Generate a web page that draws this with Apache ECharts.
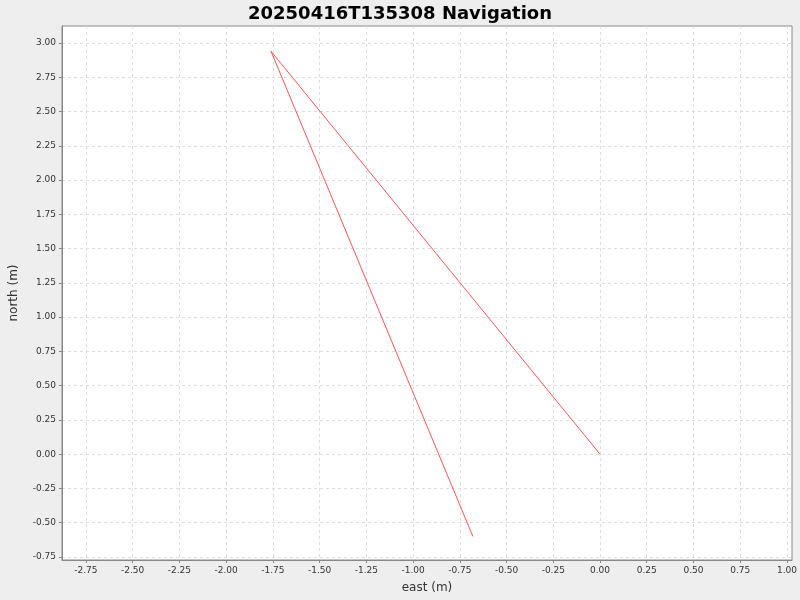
<!DOCTYPE html>
<html><head><meta charset="utf-8">
<script src="https://cdn.jsdelivr.net/npm/echarts@6/dist/echarts.min.js"></script>
<style>html,body{margin:0;padding:0;background:#eeeeee}#c{width:800px;height:600px}</style>
</head><body><div id="c"></div>
<script>
const eastValues = [0.0, -1.76, -0.68];
const northValues = [0.0, 2.94, -0.60];
const xTicks = [-2.75,-2.5,-2.25,-2,-1.75,-1.5,-1.25,-1,-0.75,-0.5,-0.25,0,0.25,0.5,0.75,1];
const yTicks = [-0.75,-0.5,-0.25,0,0.25,0.5,0.75,1,1.25,1.5,1.75,2,2.25,2.5,2.75,3];
const fmt = v => v.toFixed(2);
const chart = echarts.init(document.getElementById('c'));
const splitStyle = {show:true, lineStyle:{color:'#dddddd', type:[3,3], width:1}};
chart.setOption({
  backgroundColor:'#eeeeee',
  animation:false,
  title:{text:'20250416T135308 Navigation', left:'center', top:0,
    textStyle:{fontFamily:'DejaVu Sans', fontWeight:'bold', fontSize:18, color:'#000'}},
  grid:{left:60, right:8, top:26, bottom:40, show:true, backgroundColor:'#ffffff', borderColor:'#888', borderWidth:1},
  xAxis:{type:'value', min:-2.878, max:1.027, name:'east (m)', nameLocation:'middle', nameGap:22,
    nameTextStyle:{fontFamily:'DejaVu Sans', fontSize:12, color:'#333'},
    axisLine:{show:true, onZero:false, lineStyle:{color:'#888'}},
    axisTick:{show:true, customValues:xTicks, length:3, lineStyle:{color:'#888'}},
    axisLabel:{customValues:xTicks, formatter:fmt, fontFamily:'DejaVu Sans', fontSize:9, color:'#333', margin:6},
    splitLine:splitStyle},
  yAxis:{type:'value', min:-0.772, max:3.124, name:'north (m)', nameLocation:'middle', nameGap:42,
    nameTextStyle:{fontFamily:'DejaVu Sans', fontSize:12, color:'#333'},
    axisLine:{show:true, onZero:false, lineStyle:{color:'#888'}},
    axisTick:{show:true, customValues:yTicks, length:3, lineStyle:{color:'#888'}},
    axisLabel:{customValues:yTicks, formatter:fmt, fontFamily:'DejaVu Sans', fontSize:9, color:'#333', margin:6},
    splitLine:splitStyle},
  series:[{type:'line', data:eastValues.map((e,i)=>[e,northValues[i]]), showSymbol:false,
    lineStyle:{color:'#ff5555', width:1}, itemStyle:{color:'#ff5555'}}]
});
</script></body></html>
